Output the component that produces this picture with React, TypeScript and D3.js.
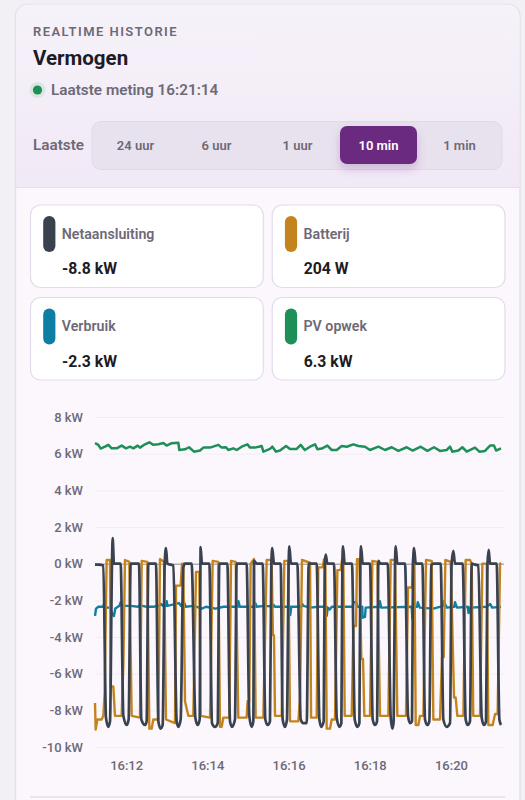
import React, { useEffect, useRef } from 'react';
import * as d3 from 'd3';

const rangeLabels = ['24 uur', '6 uur', '1 uur', '10 min', '1 min'];
const activeRange = '10 min';
const legendNames = ['Netaansluiting', 'Batterij', 'Verbruik', 'PV opwek'];
const legendValues = ['-8.8 kW', '204 W', '-2.3 kW', '6.3 kW'];
const legendColors = ['#3a4250', '#c4841d', '#0f7ea3', '#1f8f58'];
const yTicks = [8, 6, 4, 2, 0, -2, -4, -6, -8, -10];

// [seconds since 16:11:14, kW]
const gridSeries = [
  [0, -0.05], [6, -0.05], [12.3, -0.1], [16.2, -8.4], [19.7, -8.9], [22.2, -8.6], [25.1, 0], [26.1, 1.4], [28, 0],
  [37.9, 0], [41.9, -8.3], [46.8, -8.8], [49.7, -8.5], [52.7, 0],
  [65, 0], [68.5, -8.5], [73.9, -8.8], [76.3, -8.6], [78.8, 0],
  [90.1, 0], [93.6, -8.6], [97, -9], [100, -8.8], [103, 0], [104.9, 0.85], [106.9, 0],
  [115.8, -0.1], [120.7, -8.6], [123.1, -8.9], [126.6, -8.5], [130.5, -0.2], [133, 0],
  [142.8, 0], [148.3, -8.4], [151.7, -8.8], [154.7, -8.5], [156.1, 0.9], [158, 0],
  [169, 0], [172.9, -8.7], [177.3, -8.9], [181.3, -8.7], [183.7, 0],
  [195.6, 0], [199.5, -8.6], [202.4, -8.9], [206.9, -8.5], [209.3, 0],
  [224.1, 0], [228, -8.3], [231.5, -8.9], [234, -8.6], [235, 0.15], [239, 0],
  [247.8, 0], [251.7, -8.5], [255.2, -8.8], [258.6, -8.6], [260.6, 0], [262, 0.85], [264.5, 0],
  [274.4, 0], [277.3, -8.5], [280.8, -8.9], [283.7, -8.5], [286.2, 0], [287.2, 0.95], [289.6, 0],
  [299, 0], [304, -8.5], [307.9, -8.7], [312.9, -8.7], [315.8, 0],
  [327.6, 0], [331.6, -8.5], [334.5, -8.9], [338, -8.6], [339.5, 0], [341, 0.5], [343.4, 0],
  [353.2, 0], [357.2, -8.4], [361.1, -8.9], [364.1, -8.7], [365.6, 0], [366.5, 0.95], [369, 0],
  [379.8, 0], [383.8, -8.5], [387.7, -8.9], [390.7, -8.7], [392.2, 0], [393.1, 0.95], [395.6, 0],
  [406.4, 0], [410.4, -8.5], [413.8, -8.8], [416.8, -8.6], [418.8, 0.15], [422, 0],
  [432.6, 0], [437, -8.4], [439.5, -9], [441.4, -8.6], [443.4, 0], [444.4, 0.95], [446.8, 0],
  [458.2, 0], [462.6, -8.3], [465.6, -8.7], [468.5, -8.6], [470, 0], [471.5, 0.85], [474, 0],
  [483.8, 0], [487.7, -8.5], [491.2, -8.8], [494.1, -8.6], [497, -0.1], [500, 0],
  [510.9, 0], [514.8, -8.5], [519.7, -8.9], [524.7, -8.7], [527, 0], [529.6, 0.7], [532, 0],
  [543.4, 0], [547.8, -8.5], [550.8, -8.8], [554.2, -8.6], [556.7, 0], [561.6, -0.05], [566.5, -0.1],
  [571.5, -8.4], [574.9, -8.8], [577.9, -8.6], [580, 0], [581.8, 0.75], [583.8, 0],
  [593.6, 0], [597.6, -8.5], [600, -8.8],
];

const batterySeries = [
  [0, -7.6], [1, -9.05], [3.4, -8.5], [9.8, -8.5], [12.3, -8.3], [14.3, -7], [17.2, 0.2], [22.2, 0.2], [23.1, -6.7],
  [27.1, -6.7], [29.5, -8.3], [39.4, -8.3], [41.9, -5.5], [44.3, 0.2], [50.7, 0.1], [54.2, -8.3], [66.5, -8.4],
  [69, 0.15], [77.3, 0.1], [80.3, -9], [83.7, -9], [86.2, -8.5], [93.6, -8.5], [96, 0.25], [102, 0.1], [104.9, -8.5],
  [118.2, -8.7], [119.7, -1.2], [126.6, -1.2], [128.6, 0], [130.5, 0], [133, -7.5], [137.9, -8.3], [145.3, -8.3],
  [149.3, -0.45], [154.2, -0.45], [156.1, -8.3], [170, -8.4], [173.9, 0.15], [182.2, 0.1], [184.7, -8.9], [187.2, -8.9],
  [189.6, -8.4], [198.5, -8.4], [201, 0.15], [207.9, 0.1], [211.8, -8.4], [224.1, -8.4], [225.6, -7.5], [228, -7.5],
  [230, 0], [235, 0.25], [237.4, -8.4], [248.8, -8.4], [253.7, 0.2], [261, 0.2], [263, -3.9], [264.5, -3.9], [266, -8.3],
  [275.9, -8.3], [279.8, 0.15], [285.7, 0.15], [288.2, -8.6], [300.5, -8.6], [303, -7.3], [305.9, 0.2], [317.8, 0.05],
  [319.3, -8.4], [327.6, -8.4], [330, -0.2], [336.5, -0.2], [338.5, 0.25], [340.4, 0.25], [342.4, -9], [347.3, -9],
  [349.8, -8.5], [354.7, -8.5], [358.2, -0.35], [363, -0.35], [365, 0.2], [367, 0.2], [369, -8.3], [379.4, -8.3],
  [381.8, -3.4], [385.8, -3.4], [387.2, 0.25], [390.7, 0.25], [393.6, -5.2], [396.1, -5.2], [398, -8.3], [406.4, -8.3],
  [409.9, 0.15], [417.3, 0.1], [421.2, -8.3], [433.5, -8.3], [437, 0.2], [443.4, 0.2], [446.8, -8.3], [459.6, -8.3],
  [462.6, -1.3], [468.5, -1.3], [470, 0.25], [472, 0.25], [474, -8.8], [477.9, -8.8], [480.3, -8.3], [485.3, -8.3],
  [489.2, 0.2], [497.6, 0.15], [500, -8.5], [509.9, -8.5], [512.8, -5.1], [515.3, -5.1], [517.8, 0.2], [525.7, 0.1],
  [530.6, -7.3], [533, -7.3], [535.5, -8.3], [544.4, -8.3], [547.8, 0.2], [554.2, 0.2], [556.7, 0], [559, -8.3],
  [569, -8.3], [572.5, 0], [578.9, 0], [581.3, -8.8], [587.7, -8.8], [591.2, -8.2], [595, -8.2], [598.6, 0], [600, 0.05],
];

const usageSeries = [
  [0, -2.85], [1.5, -2.45], [5, -2.35], [12, -2.35], [14, -2.1], [16, -2.4], [22, -2.4], [25, -2.7], [28, -2.85],
  [30, -2.45], [36, -2.3], [38, -2.1], [40, -2.3], [52, -2.3], [64, -2.35], [66, -2.25], [70, -2.3], [76, -2.35],
  [86, -2.35], [94, -2.3], [98, -2.2], [100, -2.3], [105.5, -2.3], [106, -2.05], [107, -2.3], [124, -2.15], [127, -2.3],
  [131, -2.05], [134, -2.35], [146, -2.3], [158, -2.45], [164, -2.35], [178, -2.45], [190, -2.35], [211, -2.35], [212, -2.05],
  [214, -2.35], [236, -2.35], [237, -2.15], [239, -2.35], [250, -2.3], [251, -2.2], [253, -2.3], [263, -2.35],
  [264, -2.25], [266, -2.35], [288, -2.35], [288.5, -2.8], [290, -2.35], [305, -2.35], [306, -2.2], [308, -2.3],
  [318, -2.4], [330, -2.35], [342, -2.35], [342.5, -2.85], [344, -2.4], [347, -2.5], [350, -2.35], [370, -2.35],
  [381, -2.35], [382, -2.1], [386, -2.1], [388, -2.35], [395, -2.35], [395.5, -2.95], [399, -2.9], [400, -2.4],
  [420, -2.35], [421, -2.05], [423, -2.4], [468, -2.35], [469, -3], [470, -2.35], [476, -2.35], [477, -2.1], [480, -2.4],
  [500, -2.45], [515, -2.3], [515.5, -2.05], [520, -2.4], [531, -2.35], [532, -2.1], [535, -2.4], [551, -2.35],
  [552, -2.7], [554, -2.4], [579, -2.35], [584, -2.2], [587, -2.4], [600, -2.35],
];

const pvSeries = [
  [0, 6.57], [4.9, 6.48], [8.4, 6.28], [14.8, 6.38], [19.7, 6.48], [24.6, 6.29], [32, 6.29], [39.4, 6.44], [45.8, 6.29],
  [51.7, 6.38], [56.7, 6.29], [63, 6.44], [66.5, 6.33], [73.9, 6.51], [80.3, 6.62], [86.2, 6.48], [93.6, 6.51],
  [101, 6.58], [105.9, 6.44], [113.3, 6.57], [123.2, 6.6], [124.6, 6.2], [133, 6.24], [139, 6.35], [146.3, 6.11],
  [155.2, 6.17], [160.1, 6.33], [170, 6.33], [182.3, 6.48], [187.2, 6.33], [193.6, 6.35], [197, 6.2], [204.5, 6.29],
  [209.4, 6.2], [216.8, 6.38], [225.2, 6.51], [229.1, 6.33], [236.5, 6.33], [246.3, 6.42], [248.8, 6.11], [258.7, 6.26],
  [262.1, 6.38], [267.5, 6.11], [273.4, 6.17], [282.3, 6.42], [288.2, 6.26], [298, 6.26], [304, 6.48], [310, 6.2],
  [317.8, 6.38], [325.2, 6.51], [328.6, 6.24], [335, 6.28], [343.4, 6.44], [349.8, 6.2], [357.2, 6.2], [364.6, 6.42],
  [372, 6.38], [381.8, 6.51], [389.2, 6.42], [399, 6.38], [406.4, 6.2], [418.8, 6.38], [428.6, 6.2], [438.5, 6.35],
  [448.3, 6.15], [460.6, 6.35], [469.5, 6.17], [481.3, 6.38], [491.2, 6.15], [501, 6.35], [509.9, 6.15], [519.8, 6.2],
  [524.7, 6.38], [528.1, 6.11], [537, 6.17], [542.9, 6.35], [549.3, 6.11], [561.6, 6.33], [568, 6.11], [576.4, 6.15],
  [583.8, 6.44], [589.7, 6.44], [592.7, 6.17], [600, 6.29],
];

const startTime = new Date(2024, 0, 1, 16, 11, 14);
const endTime = new Date(2024, 0, 1, 16, 21, 14);

const App = () => {
  const svgRef = useRef<SVGSVGElement>(null);

  useEffect(() => {
    const svg = d3.select(svgRef.current);
    const font = 'Roboto, sans-serif';
    const muted = '#6e6976';
    const dark = '#1d1b24';

    const defs = svg.append('defs');
    const grad = defs.append('linearGradient').attr('id', 'head').attr('x1', 0).attr('x2', 0).attr('y1', 0).attr('y2', 1);
    grad.append('stop').attr('offset', '0%').attr('stop-color', '#f6f2f9');
    grad.append('stop').attr('offset', '100%').attr('stop-color', '#f1e9f6');
    const shadow = defs.append('filter').attr('id', 'pill').attr('x', '-30%').attr('y', '-40%').attr('width', '160%').attr('height', '200%');
    shadow.append('feDropShadow').attr('dx', 0).attr('dy', 5).attr('stdDeviation', 5).attr('flood-color', '#6b2c80').attr('flood-opacity', 0.22);

    // Page and card
    svg.append('rect').attr('width', 525).attr('height', 800).attr('fill', '#f2f0f4');
    svg.append('rect').attr('x', 15.5).attr('y', 4.5).attr('width', 504.5).attr('height', 820).attr('rx', 12)
      .attr('fill', '#fbf7fd').attr('stroke', '#e4deea').attr('stroke-width', 1.4);
    svg.append('path').attr('d', 'M16 187V16.5a12 12 0 0 1 12-12H507.5a12 12 0 0 1 12 12V187Z').attr('fill', 'url(#head)');
    svg.append('line').attr('x1', 16).attr('x2', 519.5).attr('y1', 187.5).attr('y2', 187.5).attr('stroke', '#e6deec');

    const text = (x: number, y: number, s: string, size: number, weight: number, fill: string, anchor = 'start') =>
      svg.append('text').attr('x', x).attr('y', y).attr('font-family', font).attr('font-size', size)
        .attr('font-weight', weight).attr('fill', fill).attr('text-anchor', anchor).text(s);

    // Header
    text(33, 36, 'REALTIME HISTORIE', 13, 600, muted).attr('letter-spacing', 1.45);
    text(33, 65, 'Vermogen', 20.5, 700, dark);
    svg.append('circle').attr('cx', 37.5).attr('cy', 90).attr('r', 8).attr('fill', '#dbe6e3');
    svg.append('circle').attr('cx', 37.5).attr('cy', 90).attr('r', 4.6).attr('fill', '#1f8f58');
    text(51, 95, 'Laatste meting 16:21:14', 15.3, 600, muted);

    // Range switch
    text(33, 150, 'Laatste', 15.3, 600, muted);
    svg.append('rect').attr('x', 92).attr('y', 121.5).attr('width', 410).attr('height', 48).attr('rx', 9)
      .attr('fill', '#e8e2ee').attr('stroke', '#dfd8e8');
    const rangeX = d3.scaleBand().domain(rangeLabels).range([95, 500]);
    rangeLabels.forEach((label) => {
      const cx = rangeX(label)! + rangeX.bandwidth() / 2;
      const on = label === activeRange;
      if (on) {
        svg.append('rect').attr('x', cx - 38.5).attr('y', 126).attr('width', 77).attr('height', 38).attr('rx', 7)
          .attr('fill', '#6b2c80').attr('filter', 'url(#pill)');
      }
      text(cx, 150, label, 13, 600, on ? '#ffffff' : muted, 'middle');
    });

    // Legend cards
    const cardX = d3.scaleBand().domain(['0', '1']).range([30.5, 505]).paddingInner(0.037);
    const cardY = [205, 297.5];
    legendNames.forEach((name, i) => {
      const x = cardX(String(i % 2))!;
      const y = cardY[Math.floor(i / 2)];
      svg.append('rect').attr('x', x).attr('y', y).attr('width', cardX.bandwidth()).attr('height', 82.5).attr('rx', 10)
        .attr('fill', '#ffffff').attr('stroke', '#e2dbec').attr('stroke-width', 1.2);
      svg.append('rect').attr('x', x + 12.7).attr('y', y + 11).attr('width', 12.2).attr('height', 36).attr('rx', 6)
        .attr('fill', legendColors[i]);
      text(x + 31.3, y + 33.5, name, 14.2, 600, muted);
      text(x + 31.5, y + 69, legendValues[i], 15.8, 700, dark);
    });

    // Chart
    const xScale = d3.scaleTime().domain([startTime, endTime]).range([95, 501]);
    const yScale = d3.scaleLinear().domain([-10, 8]).range([747, 417]);

    const yAxis = svg.append('g').attr('transform', 'translate(95,0)')
      .call(d3.axisLeft(yScale).tickValues(yTicks).tickSize(-409).tickPadding(12).tickFormat((d) => `${d} kW`));
    yAxis.select('.domain').remove();
    yAxis.selectAll('.tick line').attr('stroke', (d) => (d === 0 ? '#8c8794' : '#f0edf5'));
    yAxis.selectAll('.tick text').attr('font-family', font).attr('font-size', 13).attr('font-weight', 500).attr('fill', muted);

    const xAxis = svg.append('g').attr('transform', 'translate(0,747)')
      .call(d3.axisBottom(xScale).ticks(d3.timeMinute.every(2)).tickSize(0).tickPadding(14)
        .tickFormat(d3.timeFormat('%H:%M') as any));
    xAxis.select('.domain').remove();
    xAxis.selectAll('.tick text').attr('font-family', font).attr('font-size', 13).attr('font-weight', 500).attr('fill', muted);

    const straight = d3.line<number[]>()
      .x((d) => xScale(new Date(startTime.getTime() + d[0] * 1000)))
      .y((d) => yScale(d[1]));
    const rounded = d3.line<number[]>()
      .x((d) => xScale(new Date(startTime.getTime() + d[0] * 1000)))
      .y((d) => yScale(d[1]))
      .curve(d3.curveMonotoneX);

    const drawLine = (data: number[][], color: string, width: number, gen = straight) =>
      svg.append('path').attr('d', gen(data)).attr('fill', 'none').attr('stroke', color)
        .attr('stroke-width', width).attr('stroke-linejoin', 'round');

    drawLine(pvSeries, legendColors[3], 2.5);
    drawLine(usageSeries, legendColors[2], 2.4);
    drawLine(batterySeries, legendColors[1], 2.4);
    drawLine(gridSeries, legendColors[0], 2.7, rounded);

    svg.append('line').attr('x1', 30).attr('x2', 505).attr('y1', 797).attr('y2', 797).attr('stroke', '#e4deea').attr('stroke-width', 1.5);

    return () => {
      svg.selectAll('*').remove();
    };
  }, []);

  return <svg ref={svgRef} width={525} height={800} style={{ position: 'fixed', left: 0, top: 0 }} />;
};

export default App;
